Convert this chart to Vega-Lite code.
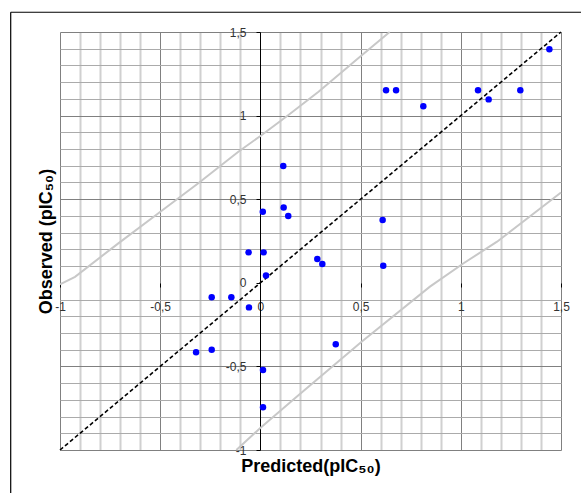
{
  "$schema": "https://vega.github.io/schema/vega-lite/v6.json",
  "width": 501,
  "height": 418,
  "autosize": "none",
  "padding": {"left": 60, "top": 32, "right": 20, "bottom": 43},
  "background": "white",
  "config": {
    "view": {"stroke": null},
    "axis": {"labelFont": "Liberation Sans", "titleFont": "Liberation Sans"}
  },
  "datasets": {
    "points": [
      {"predicted": 1.442, "observed": 1.397},
      {"predicted": 0.627, "observed": 1.151},
      {"predicted": 0.677, "observed": 1.151},
      {"predicted": 0.813, "observed": 1.056},
      {"predicted": 1.086, "observed": 1.151},
      {"predicted": 1.139, "observed": 1.097},
      {"predicted": 1.297, "observed": 1.151},
      {"predicted": 0.114, "observed": 0.699},
      {"predicted": 0.116, "observed": 0.451},
      {"predicted": 0.139, "observed": 0.4},
      {"predicted": 0.012, "observed": 0.425},
      {"predicted": 0.61, "observed": 0.376},
      {"predicted": -0.059, "observed": 0.182},
      {"predicted": 0.016, "observed": 0.182},
      {"predicted": 0.028, "observed": 0.043},
      {"predicted": 0.284, "observed": 0.142},
      {"predicted": 0.309, "observed": 0.112},
      {"predicted": 0.613, "observed": 0.102},
      {"predicted": -0.243, "observed": -0.087},
      {"predicted": -0.145, "observed": -0.087},
      {"predicted": -0.057, "observed": -0.147},
      {"predicted": -0.321, "observed": -0.416},
      {"predicted": -0.243, "observed": -0.4},
      {"predicted": 0.376, "observed": -0.368},
      {"predicted": 0.013, "observed": -0.522},
      {"predicted": 0.013, "observed": -0.745}
    ],
    "lines": [
      {"series": "diag", "predicted": -1, "observed": -1},
      {"series": "diag", "predicted": 1.5, "observed": 1.5},
      {"series": "upper", "predicted": -1, "observed": -0.01},
      {"series": "upper", "predicted": -0.925, "observed": 0.036},
      {"series": "upper", "predicted": -0.709, "observed": 0.236},
      {"series": "upper", "predicted": -0.509, "observed": 0.416},
      {"series": "upper", "predicted": -0.31, "observed": 0.595},
      {"series": "upper", "predicted": -0.11, "observed": 0.784},
      {"series": "upper", "predicted": 0, "observed": 0.878},
      {"series": "upper", "predicted": 0.14, "observed": 1.004},
      {"series": "upper", "predicted": 0.29, "observed": 1.143},
      {"series": "upper", "predicted": 0.497, "observed": 1.352},
      {"series": "upper", "predicted": 0.645, "observed": 1.5},
      {"series": "lower", "predicted": -0.12, "observed": -1},
      {"series": "lower", "predicted": -0.002, "observed": -0.87},
      {"series": "lower", "predicted": 0.181, "observed": -0.681},
      {"series": "lower", "predicted": 0.505, "observed": -0.352},
      {"series": "lower", "predicted": 0.846, "observed": -0.023},
      {"series": "lower", "predicted": 1.014, "observed": 0.117},
      {"series": "lower", "predicted": 1.181, "observed": 0.246},
      {"series": "lower", "predicted": 1.5, "observed": 0.54}
    ],
    "frame": [
      {"predicted": -1.246, "predicted2": -1.246, "observed": 1.618, "observed2": -1.4},
      {"predicted": -1.246, "predicted2": 1.65, "observed": 1.618, "observed2": 1.618}
    ]
  },
  "encoding": {
    "x": {
      "field": "predicted",
      "type": "quantitative",
      "scale": {"domain": [-1, 1.5], "nice": false, "zero": false},
      "axis": {
        "orient": "bottom",
        "offset": -167,
        "values": [-1, -0.9, -0.8, -0.7, -0.6, -0.5, -0.4, -0.3, -0.2, -0.1, 0, 0.1, 0.2, 0.3, 0.4, 0.5, 0.6, 0.7, 0.8, 0.9, 1, 1.1, 1.2, 1.3, 1.4, 1.5],
        "domain": false,
        "title": "Predicted(pIC₅₀)",
        "titleFontSize": 18,
        "titleFontWeight": "bold",
        "titleColor": "black",
        "titlePadding": 145,
        "labelExpr": "abs(datum.value*2 - round(datum.value*2)) < 0.01 ? replace(toString(datum.value), '.', ',') : ''",
        "labelFontSize": 12,
        "labelColor": "#333333",
        "labelPadding": 14,
        "labelOverlap": false,
        "labelFlush": false,
        "labelBound": false,
        "tickSize": 4,
        "tickColor": "black",
        "tickOpacity": {"condition": {"test": "abs(datum.value*2 - round(datum.value*2)) < 0.01", "value": 1}, "value": 0},
        "grid": true,
        "gridOpacity": 1,
        "gridColor": {"condition": {"test": "abs(datum.value*2 - round(datum.value*2)) < 0.01", "value": "#808080"}, "value": "#d0d0d0"},
        "gridWidth": {"condition": {"test": "abs(datum.value*2 - round(datum.value*2)) < 0.01", "value": 1}, "value": 2}
      }
    },
    "y": {
      "field": "observed",
      "type": "quantitative",
      "scale": {"domain": [-1, 1.5], "nice": false, "zero": false},
      "axis": {
        "orient": "left",
        "offset": -200,
        "values": [-1, -0.9, -0.8, -0.7, -0.6, -0.5, -0.4, -0.3, -0.2, -0.1, 0, 0.1, 0.2, 0.3, 0.4, 0.5, 0.6, 0.7, 0.8, 0.9, 1, 1.1, 1.2, 1.3, 1.4, 1.5],
        "domain": true,
        "domainColor": "black",
        "domainWidth": 1,
        "title": "Observed (pIC₅₀)",
        "titleFontSize": 18,
        "titleFontWeight": "bold",
        "titleColor": "black",
        "titlePadding": 170,
        "labelExpr": "abs(datum.value*2 - round(datum.value*2)) < 0.01 ? replace(toString(datum.value), '.', ',') : ''",
        "labelFontSize": 12,
        "labelColor": "#333333",
        "labelPadding": 10,
        "labelOverlap": false,
        "labelFlush": false,
        "labelBound": false,
        "tickSize": 4,
        "tickColor": "black",
        "tickOpacity": {"condition": {"test": "abs(datum.value*2 - round(datum.value*2)) < 0.01", "value": 1}, "value": 0},
        "grid": true,
        "gridOpacity": 1,
        "gridColor": {"condition": [{"test": "abs(datum.value) < 0.01", "value": "rgba(0,0,0,0)"}, {"test": "abs(datum.value*2 - round(datum.value*2)) < 0.01", "value": "#808080"}], "value": "#ababab"},
        "gridWidth": 1
      }
    }
  },
  "layer": [
    {
      "data": {"name": "lines"},
      "transform": [{"filter": "datum.series == 'upper'"}],
      "mark": {"type": "line", "color": "#c8c8c8", "strokeWidth": 2},
      "encoding": {}
    },
    {
      "data": {"name": "lines"},
      "transform": [{"filter": "datum.series == 'lower'"}],
      "mark": {"type": "line", "color": "#c8c8c8", "strokeWidth": 2},
      "encoding": {}
    },
    {
      "data": {"name": "lines"},
      "transform": [{"filter": "datum.series == 'diag'"}],
      "mark": {"type": "line", "color": "black", "strokeWidth": 1.6, "strokeDash": [4, 2.5]},
      "encoding": {}
    },
    {
      "data": {"name": "points"},
      "mark": {"type": "circle", "color": "#0000ff", "opacity": 1, "size": 42},
      "encoding": {}
    },
    {
      "data": {"name": "frame"},
      "mark": {"type": "rule", "color": "black", "strokeWidth": 1.2},
      "encoding": {
        "x2": {"field": "predicted2"},
        "y2": {"field": "observed2"}
      }
    }
  ]
}
